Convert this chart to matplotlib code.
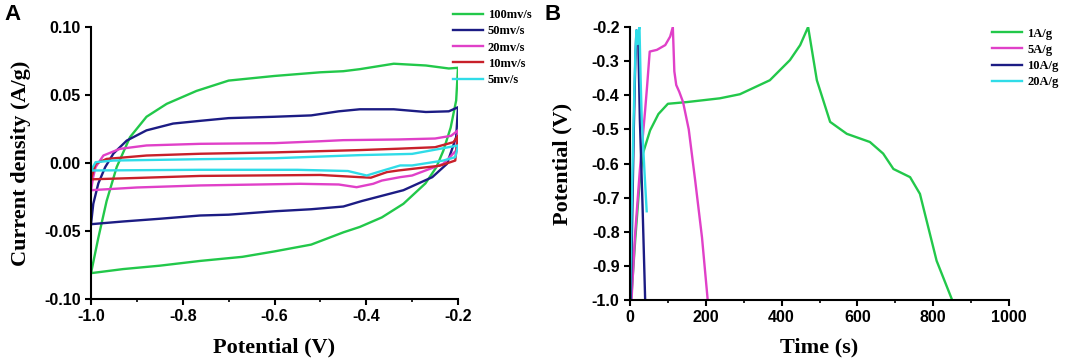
import matplotlib
matplotlib.use("Agg")
import matplotlib.pyplot as plt
from matplotlib.ticker import MultipleLocator

# DATA - panel A, cyclic voltammetry (potential V, current density A/g)
cv_labels = ["100mv/s", "50mv/s", "20mv/s", "10mv/s", "5mv/s"]

cv100_x = [-1.0, -0.984, -0.966, -0.944, -0.915, -0.879, -0.835, -0.77, -0.70, -0.60, -0.50, -0.45,
           -0.414, -0.34, -0.27, -0.22, -0.20,
           -0.204, -0.216, -0.232, -0.247, -0.271, -0.319, -0.366, -0.414, -0.45, -0.52, -0.60,
           -0.67, -0.762, -0.85, -0.93, -1.0]
cv100_y = [-0.081, -0.055, -0.028, -0.003, 0.019, 0.034, 0.0435, 0.053, 0.0606, 0.064, 0.0667, 0.0675,
           0.069, 0.073, 0.0717, 0.0695, 0.070,
           0.046, 0.026, 0.009, -0.003, -0.015, -0.030, -0.040, -0.047, -0.051, -0.060, -0.065,
           -0.069, -0.072, -0.0755, -0.078, -0.081]

cv50_x = [-1.0, -0.995, -0.984, -0.969, -0.951, -0.922, -0.879, -0.821, -0.762, -0.70, -0.60, -0.52,
          -0.46, -0.414, -0.34, -0.27, -0.22, -0.20,
          -0.204, -0.224, -0.256, -0.319, -0.41, -0.45, -0.52, -0.60, -0.70, -0.762, -0.85, -0.93, -1.0]
cv50_y = [-0.045, -0.030, -0.015, -0.003, 0.007, 0.0165, 0.024, 0.029, 0.031, 0.033, 0.034, 0.035,
          0.038, 0.0395, 0.0395, 0.0375, 0.038, 0.041,
          0.019, -0.0006, -0.0104, -0.020, -0.028, -0.032, -0.034, -0.0355, -0.038, -0.0386, -0.041,
          -0.043, -0.045]

cv20_x = [-1.0, -0.995, -0.99, -0.973, -0.937, -0.879, -0.762, -0.60, -0.50, -0.45, -0.33, -0.25,
          -0.215, -0.20,
          -0.204, -0.232, -0.30, -0.326, -0.366, -0.385, -0.421, -0.46, -0.544, -0.762, -0.90, -1.0]
cv20_y = [-0.020, -0.010, -0.003, 0.0055, 0.0104, 0.0129, 0.0141, 0.0146, 0.016, 0.0168, 0.0173, 0.018,
          0.020, 0.024,
          0.0092, -0.0006, -0.0092, -0.0104, -0.0129, -0.0153, -0.0178, -0.0158, -0.0153, -0.0165,
          -0.018, -0.020]

cv10_x = [-1.0, -0.99, -0.966, -0.879, -0.762, -0.60, -0.414, -0.33, -0.25, -0.21, -0.20,
          -0.206, -0.24, -0.33, -0.355, -0.39, -0.414, -0.50, -0.762, -0.90, -1.0]
cv10_y = [-0.012, -0.0006, 0.003, 0.0055, 0.0068, 0.0078, 0.0095, 0.0105, 0.0116, 0.0153, 0.020,
          0.0018, -0.002, -0.0055, -0.0067, -0.0108, -0.0104, -0.0088, -0.0095, -0.011, -0.012]

cv5_x = [-1.0, -0.99, -0.951, -0.762, -0.60, -0.414, -0.30, -0.24, -0.20,
         -0.206, -0.232, -0.30, -0.326, -0.363, -0.399, -0.44, -0.55, -0.762, -1.0]
cv5_y = [-0.0055, 0.0006, 0.0018, 0.0028, 0.0035, 0.0058, 0.0067, 0.0104, 0.0129,
         0.0043, 0.0018, -0.0018, -0.0018, -0.0055, -0.0092, -0.0059, -0.005, -0.005, -0.0055]

# DATA - panel B, galvanostatic charge/discharge (time s, potential V)
gcd_labels = ["1A/g", "5A/g", "10A/g", "20A/g"]

gcd1_t = [3, 14, 25, 34, 53, 75, 100, 150, 237, 290, 369, 422, 449, 470,
          493, 528, 572, 633, 668, 695, 739, 765, 787, 809, 850]
gcd1_v = [-1.0, -0.82, -0.66, -0.571, -0.503, -0.455, -0.425, -0.42, -0.409, -0.397, -0.356, -0.297,
          -0.253, -0.2,
          -0.356, -0.478, -0.513, -0.537, -0.571, -0.616, -0.640, -0.689, -0.787, -0.885, -1.0]

gcd5_t = [4, 13, 26, 40, 45, 52, 71, 93, 106, 113, 117, 122, 130, 140, 155, 172, 190, 205]
gcd5_v = [-1.0, -0.815, -0.619, -0.443, -0.375, -0.272, -0.267, -0.253, -0.228, -0.2,
          -0.33, -0.37, -0.39, -0.42, -0.50, -0.65, -0.817, -1.0]

gcd10_t = [2, 6, 10, 14, 17, 20, 22, 26, 33, 40]
gcd10_v = [-1.0, -0.75, -0.5, -0.3, -0.21, -0.22, -0.25, -0.47, -0.72, -1.0]

gcd20_t = [0, 5, 10, 14, 17, 20, 23, 25, 28, 31, 38, 44]
gcd20_v = [-1.0, -0.7, -0.45, -0.28, -0.21, -0.25, -0.21, -0.2, -0.35, -0.47, -0.62, -0.74]

GREEN = "#22c84a"
NAVY = "#1c1c84"
PINK = "#e040c8"
RED = "#c8202a"
CYAN = "#30dce8"

SANS = "Liberation Sans"
SERIF = "Liberation Serif"

fig = plt.figure(figsize=(10.65, 3.63), dpi=100)
axA = fig.add_axes([91 / 1065, 1 - 299 / 363, 367 / 1065, 272 / 363])
axB = fig.add_axes([630 / 1065, 1 - 300 / 363, 379 / 1065, 273 / 363])


def style_axes(ax):
    for side in ["top", "right"]:
        ax.spines[side].set_visible(False)
    for side in ["left", "bottom"]:
        ax.spines[side].set_linewidth(1.5)
    ax.tick_params(which="major", direction="out", length=4, width=1.5, labelsize=11.5)
    ax.tick_params(which="minor", direction="out", length=2.5, width=1.2)
    ax.tick_params(axis="y", which="minor", left=False)
    for lab in ax.get_xticklabels() + ax.get_yticklabels():
        lab.set_fontfamily(SANS)
        lab.set_fontweight("bold")


leg_font = {"family": SERIF, "weight": "bold", "size": 9}

# PANEL A
lw = 1.7
axA.plot(cv100_x, cv100_y, color=GREEN, lw=lw, label=cv_labels[0])
axA.plot(cv50_x, cv50_y, color=NAVY, lw=lw, label=cv_labels[1])
axA.plot(cv20_x, cv20_y, color=PINK, lw=lw, label=cv_labels[2])
axA.plot(cv10_x, cv10_y, color=RED, lw=lw, label=cv_labels[3])
axA.plot(cv5_x, cv5_y, color=CYAN, lw=lw, label=cv_labels[4])
axA.set_xlim(-1.0, -0.2)
axA.set_ylim(-0.10, 0.10)
axA.xaxis.set_minor_locator(MultipleLocator(0.1))
axA.set_xticks([-1.0, -0.8, -0.6, -0.4, -0.2])
axA.set_xticklabels(["-1.0", "-0.8", "-0.6", "-0.4", "-0.2"])
axA.set_yticks([-0.10, -0.05, 0.0, 0.05, 0.10])
axA.set_yticklabels(["-0.10", "-0.05", "0.00", "0.05", "0.10"])
style_axes(axA)
axA.set_xlabel("Potential (V)", fontfamily=SERIF, fontweight="bold", fontsize=16)
axA.set_ylabel("Current density (A/g)", fontfamily=SERIF, fontweight="bold", fontsize=16)
axA.xaxis.set_label_coords(0.5, -0.14)
axA.yaxis.set_label_coords(-0.163, 0.5)
axA.legend(loc="upper left", bbox_to_anchor=(453 / 1065, 0.975), bbox_transform=fig.transFigure,
           frameon=False, borderpad=0, borderaxespad=0, handlelength=2.4, handletextpad=0.4,
           labelspacing=0.34, prop=leg_font)

# PANEL B
axB.plot(gcd1_t, gcd1_v, color=GREEN, lw=lw, label=gcd_labels[0])
axB.plot(gcd5_t, gcd5_v, color=PINK, lw=lw, label=gcd_labels[1])
axB.plot(gcd10_t, gcd10_v, color=NAVY, lw=lw, label=gcd_labels[2])
axB.plot(gcd20_t, gcd20_v, color=CYAN, lw=lw, label=gcd_labels[3])
axB.set_xlim(0, 1000)
axB.set_ylim(-1.0, -0.2)
axB.xaxis.set_major_locator(MultipleLocator(200))
axB.xaxis.set_minor_locator(MultipleLocator(100))
axB.set_yticks([-1.0, -0.9, -0.8, -0.7, -0.6, -0.5, -0.4, -0.3, -0.2])
axB.set_yticklabels(["-1.0", "-0.9", "-0.8", "-0.7", "-0.6", "-0.5", "-0.4", "-0.3", "-0.2"])
style_axes(axB)
axB.set_xlabel("Time (s)", fontfamily=SERIF, fontweight="bold", fontsize=16)
axB.set_ylabel("Potential (V)", fontfamily=SERIF, fontweight="bold", fontsize=16)
axB.xaxis.set_label_coords(0.5, -0.137)
axB.yaxis.set_label_coords(-0.153, 0.5)
axB.legend(loc="upper left", bbox_to_anchor=(992 / 1065, 0.924), bbox_transform=fig.transFigure,
           frameon=False, borderpad=0, borderaxespad=0, handlelength=2.4, handletextpad=0.4,
           labelspacing=0.34, prop=leg_font)

# panel letters
fig.text(0.004, 0.99, "A", fontfamily=SANS, fontweight="bold", fontsize=16, va="top")
fig.text(0.511, 0.99, "B", fontfamily=SANS, fontweight="bold", fontsize=16, va="top")

fig.savefig("out.png", dpi=100)
